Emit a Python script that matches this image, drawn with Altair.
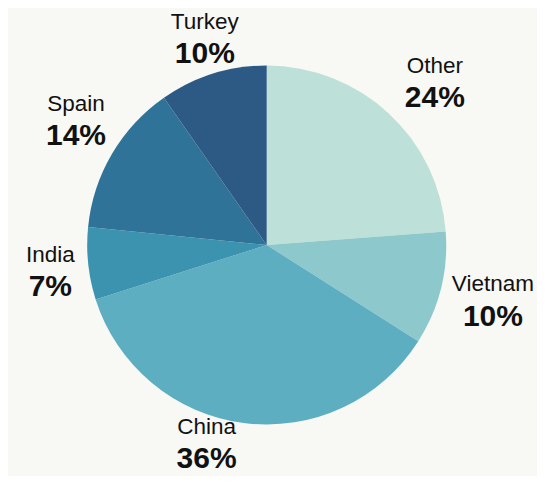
import altair as alt
import pandas as pd

categories = ["Other", "Vietnam", "China", "India", "Spain", "Turkey"]
values = [23.8, 10.2, 36.1, 6.5, 13.7, 9.7]
pct_labels = ["24%", "10%", "36%", "7%", "14%", "10%"]
colors = ["#bde1d8", "#8dc9cc", "#5daec1", "#3b93b0", "#2f7398", "#2c5a84"]

# label layout (outside-end placement tweaks)
label_radius = [234, 233, 207, 218, 228, 216]
label_shift_deg = [3.1, -0.2, 9.5, -1.0, 2.8, 0.8]

df = pd.DataFrame({
    "category": categories,
    "value": values,
    "pct": pct_labels,
    "idx": list(range(len(categories))),
    "lr": label_radius,
    "shift": label_shift_deg,
})

CX, CY = 258.7, 237
FONT = "Liberation Sans"

base = alt.Chart(df)

pie = base.mark_arc(outerRadius=179.5, stroke=None).encode(
    theta=alt.Theta("value:Q", stack=True),
    color=alt.Color("category:N", scale=alt.Scale(domain=categories, range=colors), legend=None),
    order=alt.Order("idx:Q"),
    x=alt.value(CX),
    y=alt.value(CY),
)

lab = base.transform_joinaggregate(
    total="sum(value)"
).transform_window(
    cum="sum(value)", sort=[alt.SortField("idx")], frame=[None, 0]
).transform_calculate(
    ang="(datum.cum - datum.value / 2) / datum.total * 2 * PI + datum.shift * PI / 180"
)

names = lab.mark_text(font=FONT, fontSize=22.5, color="#111111", align="center",
                      baseline="alphabetic", dy=-9.5).encode(
    theta=alt.Theta("ang:Q", scale=None),
    radius=alt.Radius("lr:Q", scale=None),
    x=alt.value(CX),
    y=alt.value(CY),
    text="category:N",
)

pcts = lab.mark_text(font=FONT, fontSize=30, fontWeight="bold", color="#111111",
                     align="center", baseline="alphabetic", dy=25).encode(
    theta=alt.Theta("ang:Q", scale=None),
    radius=alt.Radius("lr:Q", scale=None),
    x=alt.value(CX),
    y=alt.value(CY),
    text="pct:N",
)

chart = alt.layer(pie, names, pcts).properties(
    width=529, height=468, padding=0, background="#f8f8f4",
    autosize=alt.AutoSizeParams(type="none"),
).configure_view(stroke=None)

chart.save("out.html", embed_options={"renderer": "svg", "actions": False})
